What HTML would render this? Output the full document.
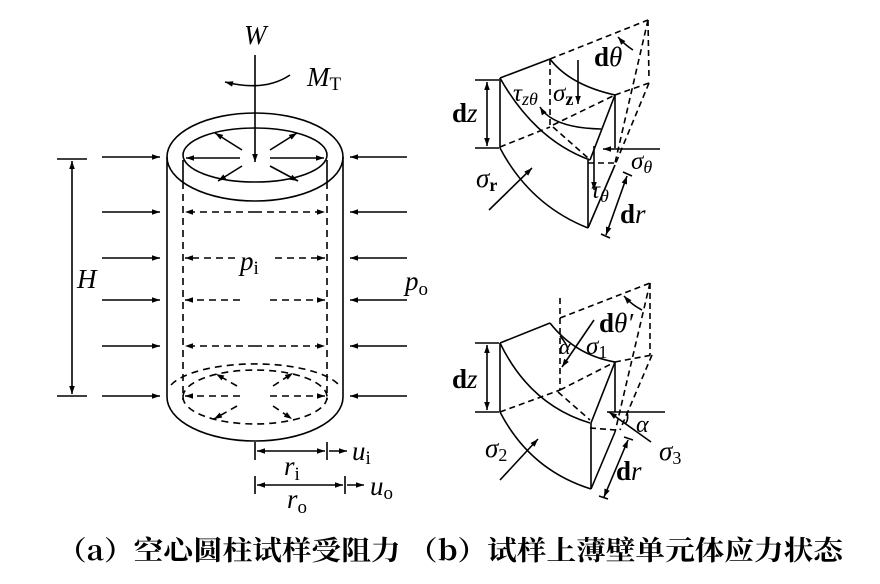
<!DOCTYPE html>
<html><head><meta charset="utf-8"><style>
html,body{margin:0;padding:0;background:#fff}
svg{display:block}
text{font-family:"Liberation Serif",serif;fill:#000}
.i{font-style:italic}
</style></head><body>
<svg width="880" height="584" viewBox="0 0 880 584" xmlns="http://www.w3.org/2000/svg">
<defs>
<marker id="a" viewBox="0 0 10 10" refX="10" refY="5" markerWidth="12" markerHeight="8" orient="auto-start-reverse" markerUnits="userSpaceOnUse"><path d="M0,1.5 L10,5 L0,8.5 Z" fill="#000"/></marker>
</defs>
<g stroke="#000" stroke-width="1.6" fill="none">
<!-- cylinder -->
<ellipse cx="255" cy="157" rx="88" ry="44"/>
<ellipse cx="255" cy="155" rx="72" ry="27"/>
<line x1="167" y1="157" x2="167" y2="397"/>
<line x1="343" y1="157" x2="343" y2="397"/>
<path d="M167,397 A88,44 0 0,0 343,397"/>
<line x1="183" y1="160" x2="183" y2="182"/>
<line x1="327" y1="160" x2="327" y2="182"/>
<g stroke-dasharray="7,5">
<line x1="183" y1="182" x2="183" y2="400"/>
<line x1="327" y1="182" x2="327" y2="400"/>
<path d="M171,385 A88,30 0 0,1 339,385"/>
<path d="M183,397 A72,27 0 0,1 327,397"/>
<path d="M183,397 A72,27 0 0,0 327,397"/>
</g>
<!-- W and torque -->
<line x1="255" y1="55" x2="255" y2="162" marker-end="url(#a)"/>
<path d="M290,75 Q265,92 225,82" marker-end="url(#a)"/>
<!-- top internal arrows -->
<line x1="240" y1="158" x2="186" y2="158" marker-end="url(#a)"/>
<line x1="270" y1="158" x2="324" y2="158" marker-end="url(#a)"/>
<line x1="242" y1="150" x2="215" y2="133" marker-end="url(#a)"/>
<line x1="270" y1="150" x2="297" y2="133" marker-end="url(#a)"/>
<line x1="242" y1="166" x2="218" y2="181" marker-end="url(#a)"/>
<line x1="270" y1="166" x2="298" y2="181" marker-end="url(#a)"/>
<!-- outer arrows -->
<g>
<line x1="102" y1="157" x2="160" y2="157" marker-end="url(#a)"/>
<line x1="102" y1="212" x2="160" y2="212" marker-end="url(#a)"/>
<line x1="102" y1="258" x2="160" y2="258" marker-end="url(#a)"/>
<line x1="102" y1="300" x2="160" y2="300" marker-end="url(#a)"/>
<line x1="102" y1="346" x2="160" y2="346" marker-end="url(#a)"/>
<line x1="102" y1="396" x2="160" y2="396" marker-end="url(#a)"/>
<line x1="407" y1="157" x2="350" y2="157" marker-end="url(#a)"/>
<line x1="407" y1="212" x2="350" y2="212" marker-end="url(#a)"/>
<line x1="407" y1="258" x2="350" y2="258" marker-end="url(#a)"/>
<line x1="407" y1="300" x2="350" y2="300" marker-end="url(#a)"/>
<line x1="407" y1="346" x2="350" y2="346" marker-end="url(#a)"/>
<line x1="407" y1="396" x2="350" y2="396" marker-end="url(#a)"/>
</g>
<!-- inner dashed arrows -->
<g stroke-dasharray="7,5">
<line x1="255" y1="212" x2="185" y2="212" marker-end="url(#a)"/>
<line x1="255" y1="212" x2="325" y2="212" marker-end="url(#a)"/>
<line x1="235" y1="258" x2="185" y2="258" marker-end="url(#a)"/>
<line x1="275" y1="258" x2="325" y2="258" marker-end="url(#a)"/>
<line x1="240" y1="300" x2="185" y2="300" marker-end="url(#a)"/>
<line x1="270" y1="300" x2="325" y2="300" marker-end="url(#a)"/>
<line x1="255" y1="346" x2="185" y2="346" marker-end="url(#a)"/>
<line x1="255" y1="346" x2="325" y2="346" marker-end="url(#a)"/>
<line x1="240" y1="396" x2="185" y2="396" marker-end="url(#a)"/>
<line x1="270" y1="396" x2="325" y2="396" marker-end="url(#a)"/>
<line x1="237" y1="386" x2="216" y2="374" marker-end="url(#a)"/>
<line x1="273" y1="386" x2="293" y2="373" marker-end="url(#a)"/>
<line x1="237" y1="406" x2="214" y2="419" marker-end="url(#a)"/>
<line x1="273" y1="406" x2="292" y2="419" marker-end="url(#a)"/>
</g>
<!-- H -->
<line x1="57" y1="159" x2="87" y2="159"/>
<line x1="57" y1="396" x2="87" y2="396"/>
<line x1="72" y1="161" x2="72" y2="394" marker-start="url(#a)" marker-end="url(#a)"/>
<!-- r dims -->
<line x1="255" y1="442" x2="255" y2="460"/>
<line x1="327" y1="442" x2="327" y2="460"/>
<line x1="257" y1="451" x2="325" y2="451" marker-start="url(#a)" marker-end="url(#a)"/>
<line x1="329" y1="451" x2="347" y2="451" marker-end="url(#a)"/>
<line x1="255" y1="476" x2="255" y2="494"/>
<line x1="345" y1="476" x2="345" y2="494"/>
<line x1="257" y1="485" x2="343" y2="485" marker-start="url(#a)" marker-end="url(#a)"/>
<line x1="347" y1="485" x2="364" y2="485" marker-end="url(#a)"/>

<!-- top right element -->
<path d="M500,78 L550,59"/>
<line x1="500" y1="78" x2="500" y2="148"/>
<path d="M500,78 Q535,140 590,160"/>
<path d="M500,148 Q530,205 588,228"/>
<line x1="588" y1="160" x2="588" y2="228"/>
<path d="M550,59 Q570,85 615,95"/>
<line x1="615" y1="95" x2="590" y2="160"/>
<line x1="615" y1="95" x2="615" y2="148"/>
<line x1="588" y1="228" x2="615" y2="165"/>
<path d="M601,129 Q553,128 540,107" marker-end="url(#a)"/>
<g stroke-dasharray="6,4">
<line x1="550" y1="59" x2="550" y2="127"/>
<line x1="500" y1="147" x2="550" y2="127"/>
<line x1="553" y1="125" x2="615" y2="95"/>
<line x1="553" y1="127" x2="588" y2="158"/>
<line x1="588" y1="163" x2="615" y2="163"/>
<line x1="550" y1="59" x2="648" y2="20"/>
<line x1="648" y1="20" x2="649" y2="80"/>
<line x1="615" y1="95" x2="649" y2="83"/>
<line x1="648" y1="20" x2="615" y2="163"/>
<line x1="649" y1="83" x2="615" y2="165"/>
</g>
<path d="M633,50 Q625,45 618,37" marker-end="url(#a)"/>
<line x1="578" y1="60" x2="578" y2="104" marker-end="url(#a)"/>
<line x1="594" y1="146" x2="594" y2="190" marker-end="url(#a)"/>
<line x1="660" y1="149" x2="603" y2="149" marker-end="url(#a)"/>
<line x1="489" y1="210" x2="532" y2="168" marker-end="url(#a)"/>
<line x1="475" y1="80" x2="499" y2="80"/>
<line x1="475" y1="148" x2="499" y2="148"/>
<line x1="487" y1="82" x2="487" y2="146" marker-start="url(#a)" marker-end="url(#a)"/>
<line x1="623" y1="172" x2="632" y2="176"/>
<line x1="601" y1="234" x2="610" y2="238"/>
<line x1="627" y1="176" x2="606" y2="235" marker-start="url(#a)" marker-end="url(#a)"/>

<!-- bottom right element -->
<line x1="500" y1="343" x2="550" y2="323"/>
<line x1="500" y1="343" x2="500" y2="412"/>
<path d="M500,343 Q530,405 590,423"/>
<path d="M500,412 Q530,470 591,489"/>
<line x1="591" y1="423" x2="591" y2="489"/>
<path d="M550,323 Q575,355 615,362"/>
<line x1="615" y1="362" x2="591" y2="423"/>
<line x1="615" y1="362" x2="615" y2="412"/>
<line x1="591" y1="489" x2="615" y2="432"/>
<g stroke-dasharray="6,4">
<line x1="560" y1="298" x2="560" y2="390"/>
<line x1="560" y1="318" x2="650" y2="283"/>
<line x1="650" y1="283" x2="650" y2="355"/>
<line x1="615" y1="362" x2="652" y2="355"/>
<line x1="500" y1="412" x2="560" y2="390"/>
<line x1="560" y1="390" x2="615" y2="362"/>
<line x1="558" y1="392" x2="590" y2="420"/>
<line x1="590" y1="428" x2="616" y2="430"/>
<line x1="650" y1="283" x2="615" y2="432"/>
<line x1="652" y1="355" x2="620" y2="430"/>
</g>
<path d="M642,310 Q632,305 624,296" marker-end="url(#a)"/>
<path d="M560,336 Q567,344 568,350"/>
<line x1="594" y1="320" x2="562" y2="367" marker-end="url(#a)"/>
<line x1="607" y1="412" x2="665" y2="412"/>
<line x1="651" y1="442" x2="609" y2="412" marker-end="url(#a)"/>
<path d="M627,412 Q629,420 625,424"/>
<line x1="500" y1="480" x2="538" y2="439" marker-end="url(#a)"/>
<line x1="475" y1="343" x2="499" y2="343"/>
<line x1="475" y1="412" x2="499" y2="412"/>
<line x1="487" y1="345" x2="487" y2="410" marker-start="url(#a)" marker-end="url(#a)"/>
<line x1="624" y1="437" x2="633" y2="440"/>
<line x1="599" y1="496" x2="608" y2="499"/>
<line x1="628" y1="440" x2="604" y2="497" marker-start="url(#a)" marker-end="url(#a)"/>
</g>

<!-- labels -->
<g font-size="27">
<text x="244" y="44" class="i">W</text>
<text x="307" y="86" class="i">M<tspan font-style="normal" font-size="19" dy="4">T</tspan></text>
<text x="77" y="288" class="i">H</text>
<text x="240" y="270" class="i">p<tspan font-style="normal" font-size="19" dy="4">i</tspan></text>
<text x="405" y="290" class="i">p<tspan font-style="normal" font-size="19" dy="5">o</tspan></text>
<text x="284" y="475" class="i">r<tspan font-style="normal" font-size="19" dy="5">i</tspan></text>
<text x="352" y="460" class="i">u<tspan font-style="normal" font-size="19" dy="4">i</tspan></text>
<text x="287" y="508" class="i">r<tspan font-style="normal" font-size="19" dy="5">o</tspan></text>
<text x="370" y="495" class="i">u<tspan font-style="normal" font-size="19" dy="4">o</tspan></text>

<text x="594" y="66" font-weight="bold">d<tspan class="i" font-weight="normal">θ</tspan></text>
<text x="513" y="101" class="i" font-size="25">τ<tspan font-size="18" dy="4">zθ</tspan></text>
<text x="553" y="101" class="i" font-size="25">σ<tspan font-style="normal" font-weight="bold" font-size="18" dy="4">z</tspan></text>
<text x="452" y="122" font-weight="bold">d<tspan class="i" font-weight="normal">z</tspan></text>
<text x="631" y="169" class="i" font-size="25">σ<tspan font-size="18" dy="4">θ</tspan></text>
<text x="476" y="187" class="i">σ<tspan font-style="normal" font-weight="bold" font-size="18" dy="4">r</tspan></text>
<text x="591" y="198" class="i" font-size="25">τ<tspan font-size="18" dy="4">θ</tspan></text>
<text x="620" y="223" font-weight="bold">d<tspan class="i" font-weight="normal">r</tspan></text>

<text x="599" y="332" font-weight="bold">d<tspan class="i" font-weight="normal">θ′</tspan></text>
<text x="559" y="354" class="i" font-size="22">α</text>
<text x="586" y="354" class="i" font-size="25">σ<tspan font-style="normal" font-size="18" dy="4">1</tspan></text>
<text x="452" y="388" font-weight="bold">d<tspan class="i" font-weight="normal">z</tspan></text>
<text x="636" y="432" class="i" font-size="24">α</text>
<text x="659" y="460" class="i">σ<tspan font-style="normal" font-size="18" dy="4">3</tspan></text>
<text x="485" y="457" class="i">σ<tspan font-style="normal" font-size="18" dy="4">2</tspan></text>
<text x="616" y="480" font-weight="bold">d<tspan class="i" font-weight="normal">r</tspan></text>
</g>
<text x="57" y="560" font-size="27" font-weight="bold" textLength="786" lengthAdjust="spacingAndGlyphs" style="font-family:'Noto Serif CJK SC','WenQuanYi Zen Hei',serif">（a）空心圆柱试样受阻力 （b）试样上薄壁单元体应力状态</text>
</svg>
</body></html>
